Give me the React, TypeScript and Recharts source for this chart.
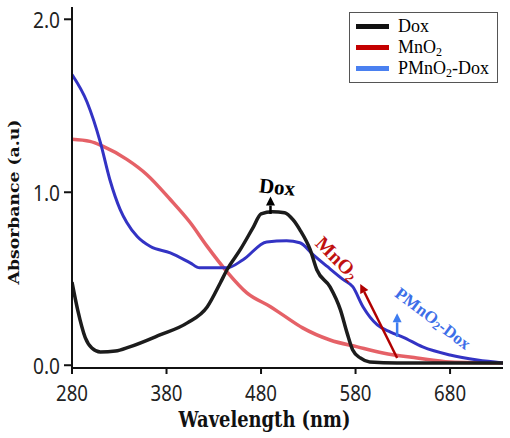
import React from "react"
import {
  LineChart,
  Line,
  XAxis,
  YAxis,
  ReferenceLine,
  ReferenceDot,
} from "recharts"

if (typeof document !== "undefined") document.body.style.margin = "0"

// values
const doxWavelength = [280, 286, 294, 301, 310, 326, 341, 373, 402, 423, 437, 444, 458, 472, 480, 492, 505, 514, 521, 532, 539, 553, 564, 571, 577, 585, 595, 624, 736]
const doxAbsorbance = [0.48, 0.32, 0.16, 0.1, 0.077, 0.082, 0.106, 0.175, 0.245, 0.337, 0.477, 0.552, 0.668, 0.8, 0.875, 0.888, 0.882, 0.84, 0.784, 0.668, 0.552, 0.453, 0.32, 0.187, 0.088, 0.042, 0.019, 0.013, 0.013]

const mnWavelength = [280, 299, 313, 338, 359, 384, 405, 423, 444, 465, 490, 503, 524, 553, 582, 609, 645, 680, 736]
const mnAbsorbance = [1.306, 1.294, 1.265, 1.19, 1.103, 0.958, 0.825, 0.687, 0.54, 0.418, 0.338, 0.291, 0.216, 0.146, 0.106, 0.071, 0.042, 0.019, 0.013]

const pmWavelength = [280, 296, 310, 320, 331, 338, 349, 363, 384, 405, 415, 444, 461, 486, 507, 521, 535, 550, 567, 577, 588, 603, 617, 630, 651, 680, 709, 736]
const pmAbsorbance = [1.68, 1.52, 1.288, 1.074, 0.9, 0.825, 0.744, 0.686, 0.65, 0.592, 0.563, 0.563, 0.61, 0.713, 0.719, 0.708, 0.64, 0.571, 0.495, 0.454, 0.337, 0.233, 0.192, 0.163, 0.106, 0.059, 0.03, 0.013]

const wavelengthTicks = [280, 380, 480, 580, 680]
const absorbanceTicks = [0, 1, 2]

const X_DOMAIN: [number, number] = [280, 736]
const Y_DOMAIN: [number, number] = [-0.016, 2.071]

const zip = (xs: number[], ys: number[]) => xs.map((wl, i) => ({ wl, abs: ys[i] }))

const doxData = zip(doxWavelength, doxAbsorbance)
const mnData = zip(mnWavelength, mnAbsorbance)
const pmData = zip(pmWavelength, pmAbsorbance)

const subStyle: React.CSSProperties = { fontSize: 12, position: "relative", top: 3, lineHeight: 0 }

const LEGEND = [
  { key: "dox", label: <>Dox</>, color: "#111" },
  { key: "mn", label: <>MnO<span style={subStyle}>2</span></>, color: "#c40000" },
  { key: "pm", label: <>PMnO<span style={subStyle}>2</span>-Dox</>, color: "#4a80f0" },
]

const SERIF = "'Liberation Serif', 'Times New Roman', serif"
const BOLD_SERIF = "'DejaVu Serif', serif"
const SANS = "'Noto Sans', sans-serif"

function LegendBox() {
  return (
    <div
      style={{
        position: "absolute",
        left: 349,
        top: 12,
        border: "1.5px solid #555",
        background: "#fff",
        padding: "3px 4px 3px 6px",
        fontFamily: SERIF,
        fontSize: 18,
        lineHeight: "21px",
        width: 149,
        boxSizing: "border-box",
      }}
    >
      {LEGEND.map((d) => (
        <div key={d.key} style={{ display: "flex", alignItems: "center", gap: 9, height: 21 }}>
          <span style={{ width: 33, height: 5, background: d.color, display: "inline-block", flexShrink: 0 }} />
          <span style={{ color: "#000", whiteSpace: "nowrap" }}>{d.label}</span>
        </div>
      ))}
    </div>
  )
}

function arrow(color: string) {
  return (p: any) => {
    const { x1, y1, x2, y2 } = p
    const ang = Math.atan2(y2 - y1, x2 - x1)
    const len = 9
    const w = 4.5
    const bx = x2 - len * Math.cos(ang)
    const by = y2 - len * Math.sin(ang)
    const px = -Math.sin(ang) * w
    const py = Math.cos(ang) * w
    return (
      <g>
        <line x1={x1} y1={y1} x2={bx} y2={by} stroke={color} strokeWidth={2.5} />
        <polygon points={`${x2},${y2} ${bx + px},${by + py} ${bx - px},${by - py}`} fill={color} />
      </g>
    )
  }
}

function tag(text: React.ReactNode, color: string, angle: number, size: number) {
  return (p: any) => (
    <text
      x={p.cx}
      y={p.cy}
      transform={`rotate(${angle} ${p.cx} ${p.cy})`}
      textAnchor="middle"
      dominantBaseline="central"
      fill={color}
      fontFamily={SERIF}
      fontWeight="bold"
      fontSize={size}
    >
      {text}
    </text>
  )
}

// the source picture is squeezed sideways, so tick text is narrowed a bit
const XTick = (p: any) => (
  <text x={p.x} y={p.y + 16} textAnchor="middle" dominantBaseline="central"
    fontFamily={SANS} fontSize={22} fill="#222" textLength={32} lengthAdjust="spacingAndGlyphs">
    {p.payload.value}
  </text>
)

const YTick = (p: any) => (
  <text x={p.x} y={p.y} textAnchor="end" dominantBaseline="central"
    fontFamily={SANS} fontSize={22} fill="#222" textLength={27} lengthAdjust="spacingAndGlyphs">
    {Number(p.payload.value).toFixed(1)}
  </text>
)

export default function App() {
  return (
    <div style={{ position: "relative", width: 510, height: 438, background: "#fff" }}>
      <LineChart width={510} height={438} margin={{ top: 7, right: 7, bottom: 0, left: 17 }}>
        <XAxis
          dataKey="wl"
          type="number"
          domain={X_DOMAIN}
          ticks={wavelengthTicks}
          allowDataOverflow
          tick={<XTick />}
          tickSize={6}
          tickMargin={2}
          height={70}
          axisLine={{ stroke: "#111", strokeWidth: 2 }}
          tickLine={{ stroke: "#111", strokeWidth: 2 }}
          label={{
            content: (props: any) => {
              const vb = props.viewBox
              return (
                <text
                  x={vb.x + vb.width / 2 - 23}
                  y={427}
                  textAnchor="middle"
                  fontFamily={BOLD_SERIF}
                  fontWeight="bold"
                  fontSize={22}
                  fill="#111"
                  textLength={172}
                  lengthAdjust="spacingAndGlyphs"
                >
                  Wavelength (nm)
                </text>
              )
            },
          }}
        />
        {/* top edge of the frame */}
        <XAxis
          xAxisId="top"
          orientation="top"
          dataKey="wl"
          type="number"
          domain={X_DOMAIN}
          allowDataOverflow
          tick={false}
          tickLine={false}
          height={0}
          axisLine={{ stroke: "#444", strokeWidth: 2 }}
        />
        <YAxis
          type="number"
          domain={Y_DOMAIN}
          ticks={absorbanceTicks}
          allowDataOverflow
          tick={<YTick />}
          tickSize={8}
          tickMargin={4}
          width={55}
          axisLine={{ stroke: "#111", strokeWidth: 2 }}
          tickLine={{ stroke: "#111", strokeWidth: 2 }}
          label={{
            content: () => (
              <text
                x={13}
                y={202}
                transform="rotate(-90 13 202)"
                textAnchor="middle"
                dominantBaseline="central"
                fontFamily={BOLD_SERIF}
                fontWeight="bold"
                fontSize={15.5}
                fill="#111"
                textLength={165}
                lengthAdjust="spacingAndGlyphs"
              >
                Absorbance (a.u)
              </text>
            ),
          }}
        />
        {/* right edge of the frame */}
        <YAxis
          yAxisId="right"
          orientation="right"
          type="number"
          domain={Y_DOMAIN}
          allowDataOverflow
          tick={false}
          tickLine={false}
          width={0}
          axisLine={{ stroke: "#444", strokeWidth: 2 }}
        />

        <Line data={mnData} dataKey="abs" stroke="#e0454c" strokeOpacity={0.85} strokeWidth={3.5} dot={false} isAnimationActive={false} type="monotone" />
        <Line data={pmData} dataKey="abs" stroke="#3333c4" strokeWidth={3} dot={false} isAnimationActive={false} type="monotone" />
        <Line data={doxData} dataKey="abs" stroke="#1c1c1c" strokeWidth={3.5} dot={false} isAnimationActive={false} type="monotone" />
        {/* invisible series so the frame axes get used */}
        <Line data={doxData} dataKey="abs" xAxisId="top" yAxisId="right" stroke="none" dot={false} isAnimationActive={false} legendType="none" />

        <ReferenceLine segment={[{ x: 490, y: 0.875 }, { x: 490, y: 0.975 }]} shape={arrow("#000")} />
        <ReferenceLine segment={[{ x: 624, y: 0.042 }, { x: 585, y: 0.47 }]} shape={arrow("#b00000")} />
        <ReferenceLine segment={[{ x: 624, y: 0.164 }, { x: 624, y: 0.3 }]} shape={arrow("#3d7cf0")} />

        <ReferenceDot x={497} y={1.03} r={1} shape={tag("Dox", "#000", 6, 21)} />
        <ReferenceDot x={561} y={0.62} r={1} shape={tag(<>MnO<tspan fontSize={13} dy={5}>2</tspan></>, "#c01010", 45, 20)} />
        <ReferenceDot x={662} y={0.27} r={1} shape={tag(<>PMnO<tspan fontSize={12} dy={4}>2</tspan><tspan dy={-4}>-Dox</tspan></>, "#3d6ee8", 37, 17)} />
      </LineChart>
      <LegendBox />
    </div>
  )
}
